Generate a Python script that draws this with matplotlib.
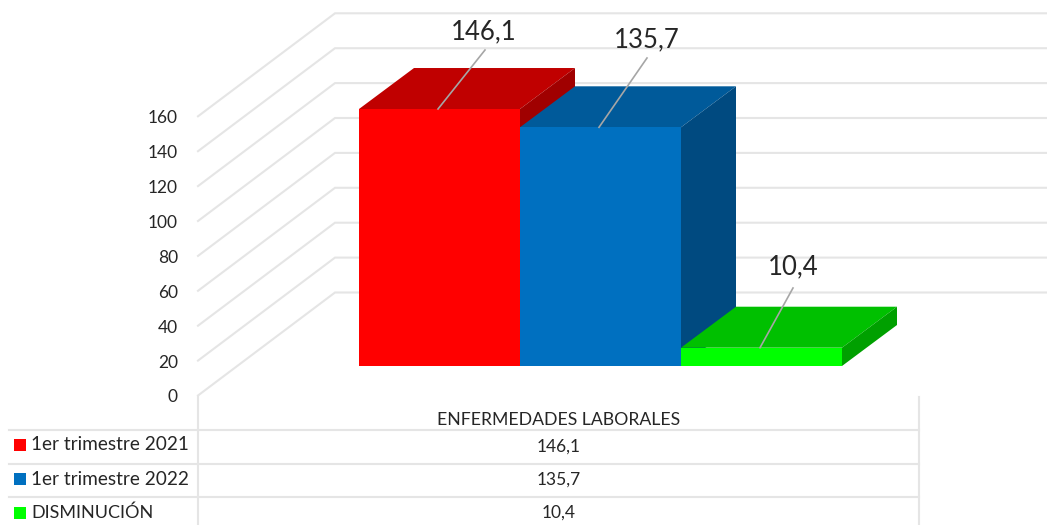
import matplotlib
matplotlib.use("Agg")
import matplotlib.pyplot as plt
from matplotlib.patches import Polygon, Rectangle

plt.rcParams['font.family'] = ['Lato', 'DejaVu Sans']

category = "ENFERMEDADES LABORALES"
series_names = ["1er trimestre 2021", "1er trimestre 2022", "DISMINUCIÓN"]
series_values = [146.1, 135.7, 10.4]
value_labels = ["146,1", "135,7", "10,4"]
tick_values = [0, 20, 40, 60, 80, 100, 120, 140, 160]
front_colors = ["#ff0000", "#0070c0", "#00ff00"]
top_colors = ["#c00000", "#005a9a", "#00c000"]
side_colors = ["#a00000", "#004a80", "#00a000"]

W, H = 1047, 525
# layout of the chart on the canvas, in pixels
BAR_X0, BAR_W = 359.0, 161.0
BAR_Y0, PX_PER_UNIT = 366.0, 1.759
DEPTH_X, DEPTH_Y = 55.0, 41.0
FRONT_X, BACK_X = 198.0, 335.0
FRONT_Y0, BACK_Y0 = 395.5, 292.5
WALL_PX_PER_UNIT = 1.745
GRID = "#e5e5e5"
TEXT = "#262626"

fig = plt.figure(figsize=(W / 100, H / 100), dpi=100)
ax = fig.add_axes([0, 0, 1, 1])
# x in bar widths, y in value units of the plane of the bars
ax.set_xlim(-BAR_X0 / BAR_W, (W - BAR_X0) / BAR_W)
ax.set_ylim((BAR_Y0 - H) / PX_PER_UNIT, BAR_Y0 / PX_PER_UNIT)
ax.axis("off")


def X(px):
    return (px - BAR_X0) / BAR_W


def Y(px):
    return (BAR_Y0 - px) / PX_PER_UNIT


dx = DEPTH_X / BAR_W
dy = DEPTH_Y / PX_PER_UNIT

# walls and gridlines
for v in tick_values:
    yf = FRONT_Y0 - v * WALL_PX_PER_UNIT
    yb = BACK_Y0 - v * WALL_PX_PER_UNIT
    ax.plot([X(FRONT_X), X(BACK_X), X(W)], [Y(yf), Y(yb), Y(yb)],
            color=GRID, lw=1.5, solid_joinstyle="miter", zorder=1)
    ax.text(X(178), Y(yf + 2), str(v), ha="right", va="center",
            fontsize=12.5, color=TEXT)

# bars: front face, top, side
for i, v in enumerate(series_values):
    z = 3 + i
    ax.bar(i, v, width=1, align="edge", color=front_colors[i], zorder=z + 0.2)
    ax.add_patch(Polygon([(i, v), (i + 1, v), (i + 1 + dx, v + dy), (i + dx, v + dy)],
                         closed=True, fc=top_colors[i], ec="none", zorder=z))
    ax.add_patch(Polygon([(i + 1, 0), (i + 1 + dx, dy), (i + 1 + dx, v + dy), (i + 1, v)],
                         closed=True, fc=side_colors[i], ec="none", zorder=z))

# value labels with leader lines
label_xy = [(484, 32), (647, 40), (793, 267)]
leader_end = [(485, 50), (647, 58), (793, 288)]
leader_start = [(438, None), (599, None), (760, None)]
for i, v in enumerate(series_values):
    ax.plot([X(leader_start[i][0]), X(leader_end[i][0])], [v, Y(leader_end[i][1])],
            color="#a6a6a6", lw=1.2, zorder=10)
    ax.text(X(label_xy[i][0]), Y(label_xy[i][1]), value_labels[i], ha="center",
            va="center", fontsize=18.5, color=TEXT, zorder=11)

# data table
TABLE_L, TABLE_R = 9.0, 919.0
TABLE_TOP = 397.0
ROWS = [430.0, 463.5, 497.0]
for xp in (FRONT_X, TABLE_R):
    ax.plot([X(xp), X(xp)], [Y(TABLE_TOP), Y(H)], color=GRID, lw=1.5, zorder=1)
for yp in ROWS:
    ax.plot([X(TABLE_L), X(TABLE_R)], [Y(yp), Y(yp)], color=GRID, lw=1.5, zorder=1)
MID = (FRONT_X + TABLE_R) / 2
ax.text(X(MID), Y(420), category, ha="center", va="center", fontsize=12.7, color=TEXT)
row_centers = [445, 479, 512.5]
name_y = [444, 479.5, 513]
name_size = [13.7, 13.7, 13.0]
value_y = [447, 480, 513]
for i, name in enumerate(series_names):
    yc = row_centers[i]
    ax.text(X(MID), Y(value_y[i]), value_labels[i], ha="center", va="center",
            fontsize=12.5, color=TEXT)
    ax.add_patch(Rectangle((X(14.5), Y(yc + 6)), 12 / BAR_W, 12 / PX_PER_UNIT,
                           fc=front_colors[i], ec="none", zorder=3))
    ax.text(X(31), Y(name_y[i]), name, ha="left", va="center",
            fontsize=name_size[i], color=TEXT)

fig.savefig("out.png", dpi=100, facecolor="white")
